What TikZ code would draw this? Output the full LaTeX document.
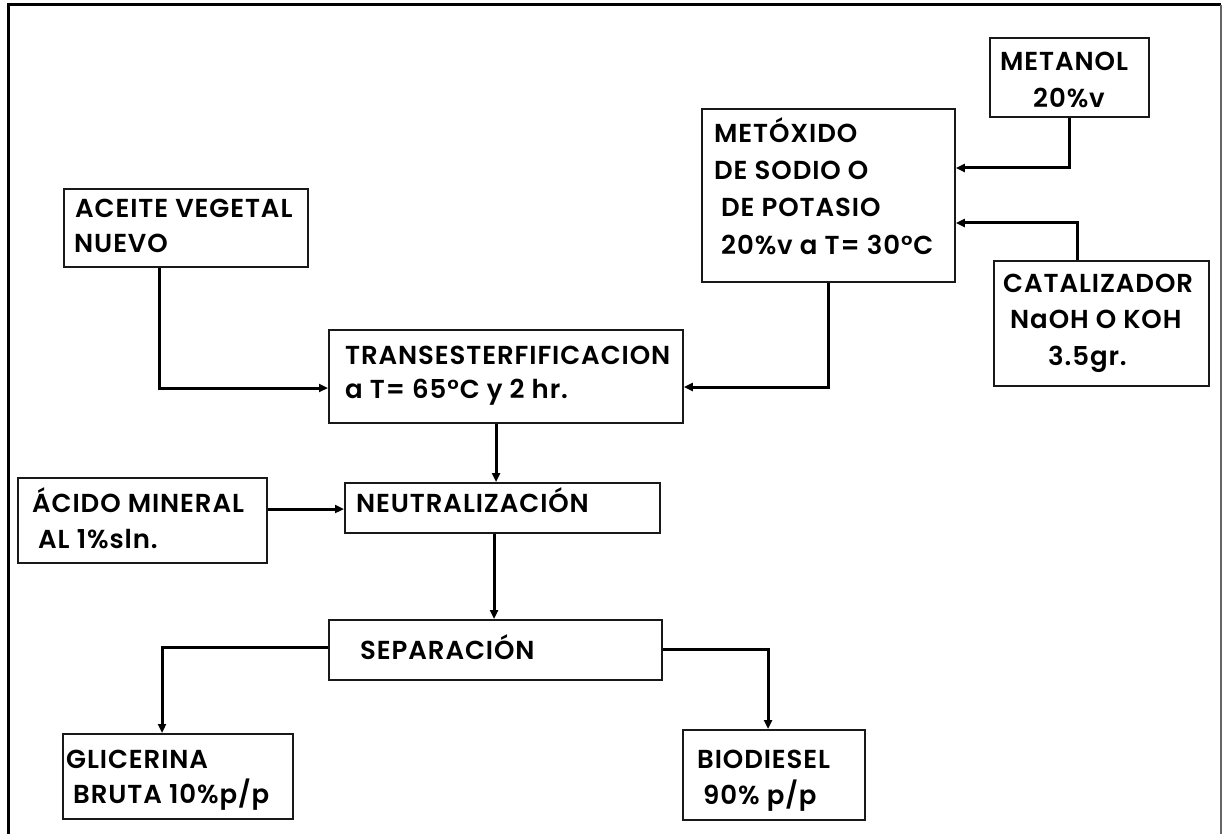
\documentclass[tikz,border=0pt]{standalone}
\usepackage{fontspec}
\setmainfont{Poppins}[BoldFont={* SemiBold}, LetterSpace=3.5]
\usetikzlibrary{arrows.meta,calc}

\tikzset{
  box/.style={draw=black!90, line width=1.8pt, anchor=north west, inner sep=0pt},
  lbl/.style={anchor=base west, inner sep=0pt, font=\fontsize{26}{30}\selectfont\bfseries},
  conn/.style={line width=3pt, -{Triangle[length=9pt,width=8pt]}},
}

\begin{document}
\begin{tikzpicture}[x=1pt, y=-1pt]
\useasboundingbox (0,0) rectangle (1223,834);
\fill[white] (0,0) rectangle (1223,834);

% outer frame
\draw[line width=3pt] (8,834) -- (8,5) -- (1221,5);
\draw[line width=1.5pt, black!60] (1221,5) -- (1221,834);

% boxes
\node[box, minimum width=159pt, minimum height=79pt]  (metanol)  at (989,37)  {};
\node[box, minimum width=253pt, minimum height=173pt] (metoxido) at (701,108) {};
\node[box, minimum width=215pt, minimum height=125pt] (catal)    at (993,260) {};
\node[box, minimum width=244pt, minimum height=78pt]  (aceite)   at (63,188)  {};
\node[box, minimum width=354pt, minimum height=93pt]  (trans)    at (328,329) {};
\node[box, minimum width=315pt, minimum height=50pt]  (neut)     at (344,482) {};
\node[box, minimum width=249pt, minimum height=85pt]  (acido)    at (17,477)  {};
\node[box, minimum width=333pt, minimum height=60pt]  (sep)      at (328,619) {};
\node[box, minimum width=230pt, minimum height=85pt]  (glic)     at (62,733)  {};
\node[box, minimum width=182pt, minimum height=90pt]  (bio)      at (682,729) {};

% texts
\node[lbl] (metanol-a) at (1000,71) {METANOL};
\node[lbl] (metanol-b) at (1033,108) {20\%v};

\node[lbl] (metoxido-a) at (714,143) {METÓXIDO};
\node[lbl] (metoxido-b) at (714,180) {DE SODIO O};
\node[lbl] (metoxido-c) at (721,217) {DE POTASIO};
\node[lbl] (metoxido-d) at (721,255) {20\%v a T= 30°C};

\node[lbl] (catal-a) at (1003,292) {CATALIZADOR};
\node[lbl] (catal-b) at (1010,328) {NaOH O KOH};
\node[lbl] (catal-c) at (1048,365) {3.5gr.};

\node[lbl] (aceite-a) at (75,218) {ACEITE VEGETAL};
\node[lbl] (aceite-b) at (74,253) {NUEVO};

\node[lbl] (trans-a) at (345,364) {TRANSESTERFIFICACION};
\node[lbl] (trans-b) at (345,398) {a T= 65°C y 2 hr.};

\node[lbl] (neut-a) at (356,512) {NEUTRALIZACIÓN};

\node[lbl] (acido-a) at (32,512) {ÁCIDO MINERAL};
\node[lbl] (acido-b) at (38,548) {AL 1\%sln.};

\node[lbl] (sep-a) at (360,659) {SEPARACIÓN};

\node[lbl] (glic-a) at (66,768) {GLICERINA};
\node[lbl] (glic-b) at (73,803) {BRUTA 10\%p/p};

\node[lbl] (bio-a) at (697,768) {BIODIESEL};
\node[lbl] (bio-b) at (703,804) {90\% p/p};

% connectors
\draw[conn] (metanol.south) |- ($(metoxido.north east)+(0,60)$);
\draw[conn] ($(catal.north west)+(84,0)$) |- ($(metoxido.north east)+(0,115)$);
\draw[conn] (metoxido.south) |- ($(trans.north east)+(0,58)$);
\draw[conn] ($(aceite.south west)+(96,0)$) |- ($(trans.north west)+(0,59)$);
\draw[conn] ($(trans.south west)+(168,0)$) -- ($(neut.north west)+(152,0)$);
\draw[conn] ($(acido.north east)+(0,32)$) -- ($(neut.north west)+(0,27)$);
\draw[conn] ($(neut.south west)+(150,0)$) -- ($(sep.north west)+(166,0)$);
\draw[conn] ($(sep.north west)+(0,28)$) -| ($(glic.north west)+(100,0)$);
\draw[conn] ($(sep.north east)+(0,30)$) -| ($(bio.north west)+(86,0)$);
\end{tikzpicture}
\end{document}
